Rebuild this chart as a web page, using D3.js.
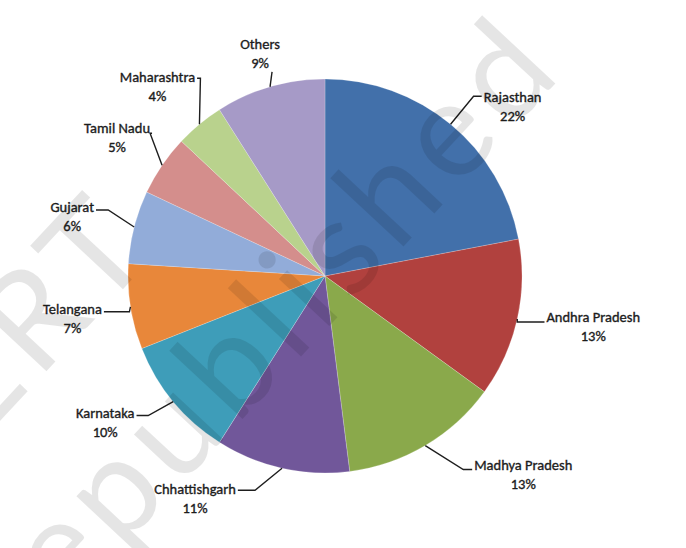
<!DOCTYPE html>
<html>
<head>
<meta charset="utf-8">
<script src="https://cdn.jsdelivr.net/npm/d3@7"></script>
<style>
  html, body { margin: 0; padding: 0; background: #fff; }
  svg { display: block; }
</style>
</head>
<body>
<script>
// share of each state, clockwise from 12 o'clock
const states = ['Rajasthan', 'Andhra Pradesh', 'Madhya Pradesh', 'Chhattishgarh', 'Karnataka',
  'Telangana', 'Gujarat', 'Tamil Nadu', 'Maharashtra', 'Others']
const shares = [22, 13, 13, 11, 10, 7, 6, 5, 4, 9]
const colors = ['#4270aa', '#b1413e', '#8aa94b', '#71579a', '#3e9db9',
  '#e8873a', '#92acd9', '#d48e8c', '#b9d28d', '#a69ac7']

// label placement: name-line centre and leader knee, relative to the slice edge point
const labelLayout = [
  { dx: 62, dy: -27, kx: 23, ky: -28, side: 'r' },
  { dx: 76, dy: -2, kx: 0, ky: 3, side: 'r' },
  { dx: 98, dy: 19, kx: 38, ky: 24, side: 'r' },
  { dx: -87, dy: 21, kx: -27, ky: 22, side: 'l' },
  { dx: -68, dy: 11, kx: -25, ky: 14, side: 'l' },
  { dx: -58, dy: 2, kx: -1, ky: 5, side: 'l' },
  { dx: -62, dy: -20, kx: -26, ky: -17, side: 'l' },
  { dx: -45, dy: -37, kx: -12, ky: -32, side: 'l' },
  { dx: -42, dy: -47, kx: 1, ky: -46, side: 'l' },
  { dx: -10, dy: -43, kx: 2, ky: -15, side: 'n' }
]

const w = 686
const h = 548
const cx = 325
const cy = 276
const r = 197

const svg = d3.select('body').append('svg').attr('width', w).attr('height', h)

const data = states.map((s, i) => ({ name: s, value: shares[i], color: colors[i], lay: labelLayout[i] }))

const pie = d3.pie().sort(null).value((d) => d.value)
const arc = d3.arc().innerRadius(0).outerRadius(r)
const arcs = pie(data)

const g = svg.append('g').attr('transform', `translate(${cx},${cy})`)

g.selectAll('path.slice')
  .data(arcs)
  .enter()
  .append('path')
  .attr('class', 'slice')
  .attr('d', arc)
  .attr('fill', (d) => d.data.color)
  .attr('stroke', 'rgba(255,255,255,0.35)')
  .attr('stroke-width', 0.6)

const font = 'Carlito, Calibri, Lato, "Open Sans", sans-serif'

arcs.forEach((d) => {
  const mid = (d.startAngle + d.endAngle) / 2
  const ex = Math.sin(mid) * r
  const ey = -Math.cos(mid) * r
  const L = d.data.lay
  const tx = ex + L.dx
  const ty = ey + L.dy

  const t = g.append('text')
    .attr('font-family', font)
    .attr('font-size', 14.5)
    .attr('fill', '#1c1c1c')
    .attr('stroke', '#1c1c1c')
    .attr('stroke-width', 0.35)
    .attr('text-anchor', 'middle')
  t.append('tspan').attr('x', tx).attr('y', ty + 5).text(d.data.name)
  t.append('tspan').attr('x', tx).attr('y', ty + 24).text(d.data.value + '%')

  const nameW = t.select('tspan').node().getComputedTextLength()
  const kx = ex + L.kx
  const ky = ey + L.ky
  const pts = [[ex, ey], [kx, ky]]
  if (L.side === 'r') pts.push([tx - nameW / 2 - 2, ky])
  if (L.side === 'l') pts.push([tx + nameW / 2 + 2, ky])
  g.append('path')
    .attr('d', d3.line()(pts))
    .attr('fill', 'none')
    .attr('stroke', '#1e1e1e')
    .attr('stroke-width', 1.4)
})

// faint diagonal watermark over everything
const wm = svg.append('g')
  .attr('transform', 'translate(568,70) rotate(-47)')
  .attr('font-family', 'Lato, "Open Sans", sans-serif')
  .attr('font-size', 136)
  .attr('letter-spacing', 9)
  .attr('fill', '#000')
  .attr('fill-opacity', 0.1)
  .attr('text-anchor', 'end')
wm.append('text').attr('x', 0).attr('y', 0).text('not to be republished')
wm.append('text').attr('x', -408).attr('y', -176).text('© NCERT')
</script>
</body>
</html>
